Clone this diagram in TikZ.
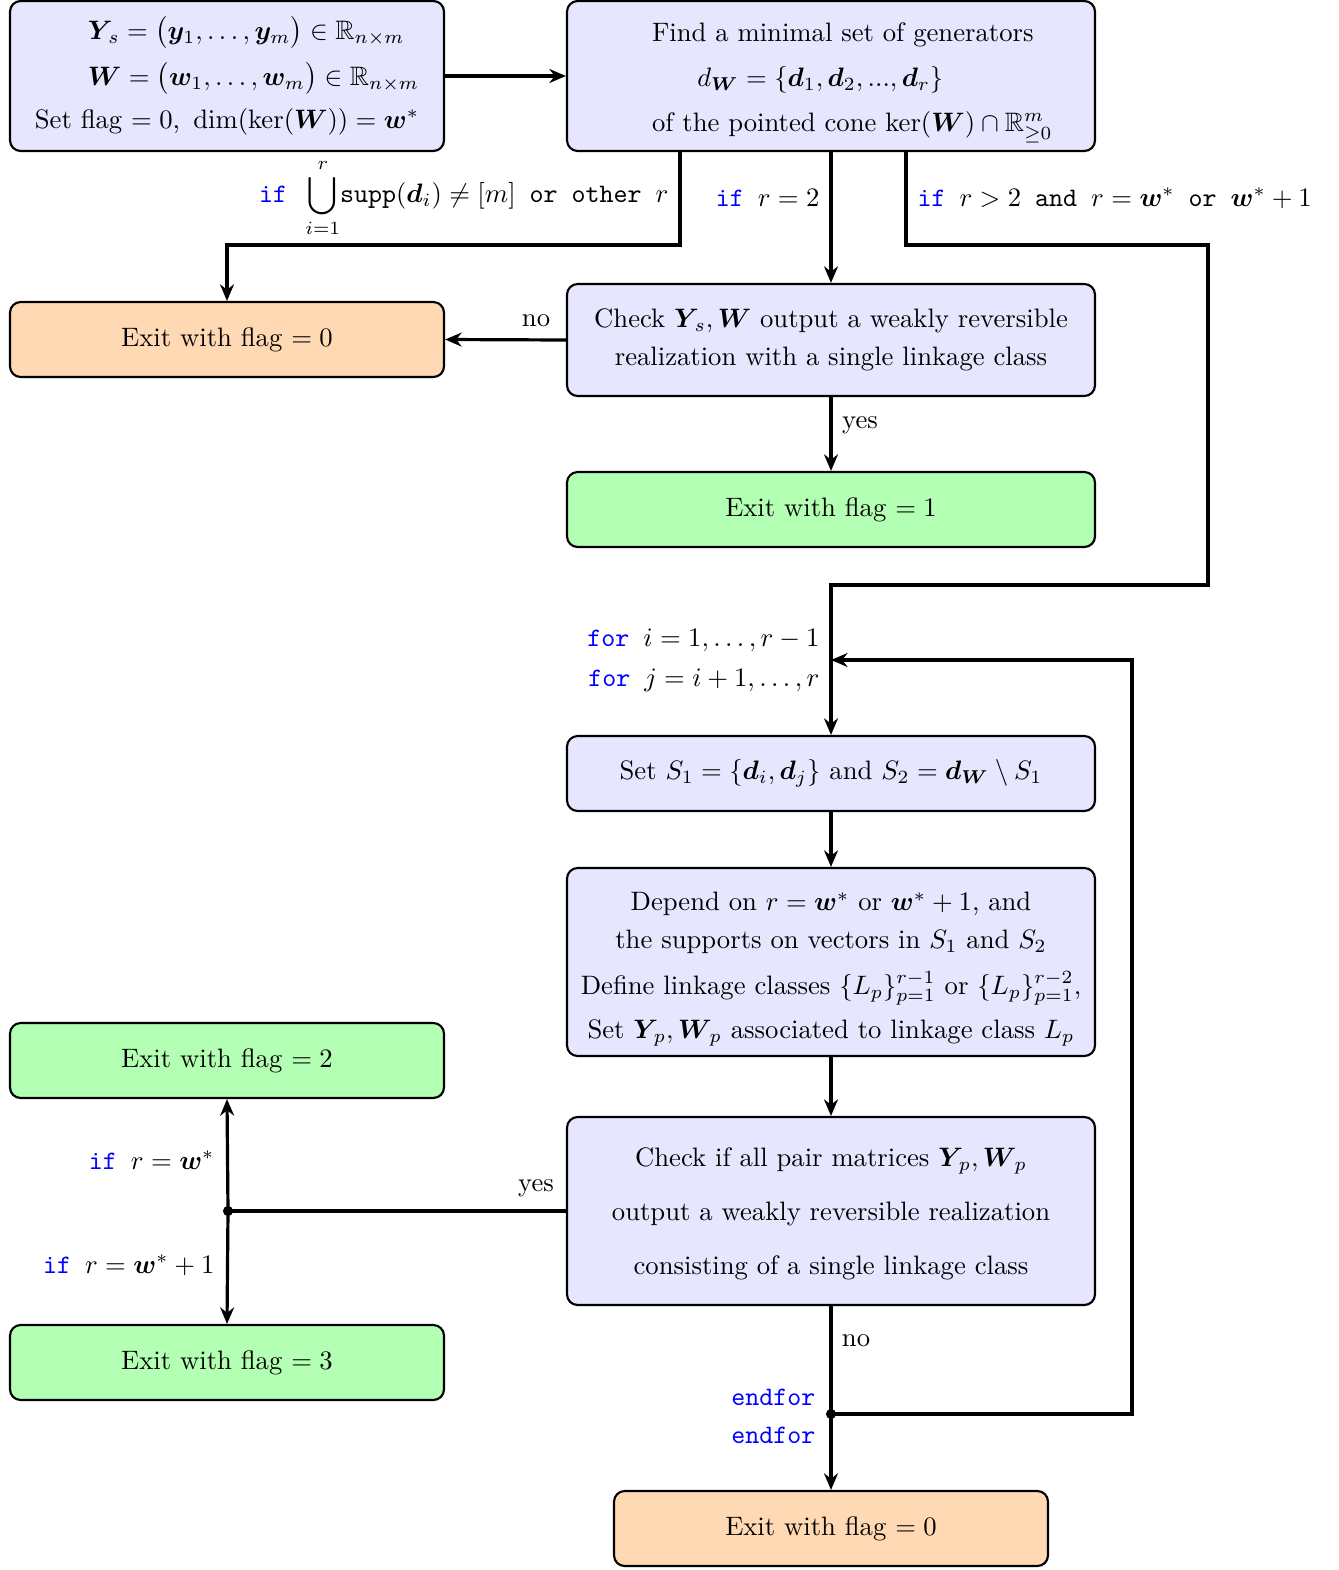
\documentclass[tikz,border=0pt]{standalone}
\usepackage{amsmath,amssymb,bm}
\usetikzlibrary{arrows.meta}
\definecolor{boxblue}{RGB}{230,230,255}
\definecolor{boxorange}{RGB}{255,217,179}
\definecolor{boxgreen}{RGB}{179,255,179}
\newcommand{\kw}[1]{\texttt{\textcolor{blue}{#1}}}
\begin{document}
\begin{tikzpicture}[x=0.375pt,y=-0.375pt,
  box/.style={draw, line width=0.8pt, rounded corners=4pt, inner sep=0pt, align=center},
  wide/.style={box, minimum width=198pt},
  narrow/.style={box, minimum width=162.75pt},
  bluebox/.style={fill=boxblue},
  orangebox/.style={fill=boxorange},
  greenbox/.style={fill=boxgreen},
  conn/.style={line width=1.2pt},
  arr/.style={conn, -{Stealth[length=6.2pt,width=5.2pt,inset=2pt]}},
  lbl/.style={inner sep=0pt},
  dot/.style={fill, circle, inner sep=0pt, minimum size=3.8pt}]
\useasboundingbox (0,0) rectangle (1338,1570);

% boxes
\node[narrow, bluebox, minimum height=56.25pt] (A) at (227,76)
  {\makebox[104.25pt][l]{$\boldsymbol{Y}_{\mkern2mu s} = \big(\boldsymbol{y}_1, \ldots, \boldsymbol{y}_m\big) \in \mathbb{R}_{n\times m}$}\\[4.2pt]
   \makebox[104.25pt][l]{$\boldsymbol{W} = \big(\boldsymbol{w}_1, \ldots, \boldsymbol{w}_m\big) \in \mathbb{R}_{n\times m}$}\\[4.2pt]
   Set flag $=0$,\enspace$\dim(\ker(\boldsymbol{W})) = \boldsymbol{w}^*$};
\node[wide, bluebox, minimum height=56.25pt, align=left] (B) at (831,76)
  {\rule{0pt}{12pt}\hspace*{16pt}Find a minimal set of generators\\[4.9pt]
   \hspace*{33pt}$d_{\boldsymbol{W}} = \{\boldsymbol{d}_1, \boldsymbol{d}_2, ..., \boldsymbol{d}_r\}$\\[4.9pt]
   \hspace*{16pt}of the pointed cone $\ker(\boldsymbol{W}) \cap \mathbb{R}^m_{\geq 0}$};
\node[narrow, orangebox, minimum height=28.125pt] (E0a) at (227,339.5) {Exit with flag $= 0$};
\node[wide, bluebox, minimum height=42pt] (CA) at (831,340)
  {Check $\boldsymbol{Y}_{\mkern2mu s}, \boldsymbol{W}$ output a weakly reversible\\[2.25pt]
   realization with a single linkage class};
\node[wide, greenbox, minimum height=28.125pt] (E1) at (831,509.5) {Exit with flag $= 1$};
\node[wide, bluebox, minimum height=28.125pt] (S) at (831,773.5)
  {Set $S_1 = \{\boldsymbol{d}_i, \boldsymbol{d}_j\}$ and $S_2 = \boldsymbol{d}_{\boldsymbol{W}} \setminus S_1$};
\node[wide, bluebox, minimum height=70.5pt] (D) at (831,962)
  {\rule{0pt}{12.5pt}Depend on $r = \boldsymbol{w}^*$ or $\boldsymbol{w}^*+1$, and\\[2.25pt]
   the supports on vectors in $S_1$ and $S_2$\\[5.25pt]
   Define linkage classes $\{L_p\}_{p=1}^{r-1}$ or $\{L_p\}_{p=1}^{r-2}$,\\[4.5pt]
   Set $\boldsymbol{Y}_{\mkern2mu p}, \boldsymbol{W}_{\mkern2mu p}$ associated to linkage class $L_p$};
\node[wide, bluebox, minimum height=70.5pt] (CB) at (831,1211)
  {\rule{0pt}{9.5pt}Check if all pair matrices $\boldsymbol{Y}_{\mkern2mu p},\boldsymbol{W}_{\mkern2mu p}$\\[8.25pt]
   output a weakly reversible realization\\[8.25pt]
   consisting of a single linkage class};
\node[narrow, greenbox, minimum height=28.125pt] (E2) at (227,1060.5) {Exit with flag $= 2$};
\node[narrow, greenbox, minimum height=28.125pt] (E3) at (227,1362.5) {Exit with flag $= 3$};
\node[narrow, orangebox, minimum height=28.125pt] (E0b) at (831,1528.5) {Exit with flag $= 0$};

% coordinates
\coordinate (c1) at (680,245);
\coordinate (c2) at (906,245);
\coordinate (c3) at (1208,585);
\coordinate (lp) at (1132,660);
\coordinate (j1) at (831,660);
\node[dot] (d1) at (831,1414) {};
\node[dot] (d2) at (228,1211) {};

% connectors
\draw[arr] (A.east) -- (B.west);
\draw[arr] (B.south -| c1) -- (c1) -| (E0a.north);
\draw[arr] (B.south) -- (CA.north);
\draw[arr] (B.south -| c2) -- (c2) -| (c3) -| (S.north);
\draw[arr] (CA.west) -- (E0a.east);
\draw[arr] (CA.south) -- (E1.north);
\draw[arr] (S.south) -- (D.north);
\draw[arr] (D.south) -- (CB.north);
\draw[conn] (CB.south) -- (d1.center);
\draw[arr] (d1.center) -- (E0b.north);
\draw[arr] (d1.center) -| (lp) -- (j1);
\draw[conn] (CB.west) -- (d2.center);
\draw[arr] (d2.center) -- (E2.south);
\draw[arr] (d2.center) -- (E3.north);

% labels
\node[lbl, anchor=east] (l1) at (669,198)
  {\kw{if }\,$\displaystyle\bigcup_{i=1}^{r}$\texttt{supp}$(\boldsymbol{d}_i) \neq [m]$\texttt{ or other }$r$};
\node[lbl, anchor=east] (l2) at (820,198) {\kw{if }$r = 2$};
\node[lbl, anchor=west] (l3) at (917,198)
  {\kw{if }$r > 2$\texttt{ and }$r = \boldsymbol{w}^*$\texttt{ or }$\boldsymbol{w}^* + 1$};
\node[lbl] (l4) at (536,321) {no};
\node[lbl] (l5) at (860,425) {yes};
\node[lbl, anchor=east] (l6) at (820,640) {\kw{for }$i = 1, \ldots, r-1$};
\node[lbl, anchor=east] (l7) at (820,680) {\kw{for }$j = i+1, \ldots, r$};
\node[lbl] (l8) at (856,1341) {no};
\node[lbl, anchor=east] (l9) at (816,1397) {\kw{endfor}};
\node[lbl, anchor=east] (l10) at (816,1435) {\kw{endfor}};
\node[lbl] (l11) at (536,1188) {yes};
\node[lbl, anchor=east] (l12) at (215,1160) {\kw{if }$r = \boldsymbol{w}^*$};
\node[lbl, anchor=east] (l13) at (215,1265) {\kw{if }$r = \boldsymbol{w}^* + 1$};
\end{tikzpicture}
\end{document}
